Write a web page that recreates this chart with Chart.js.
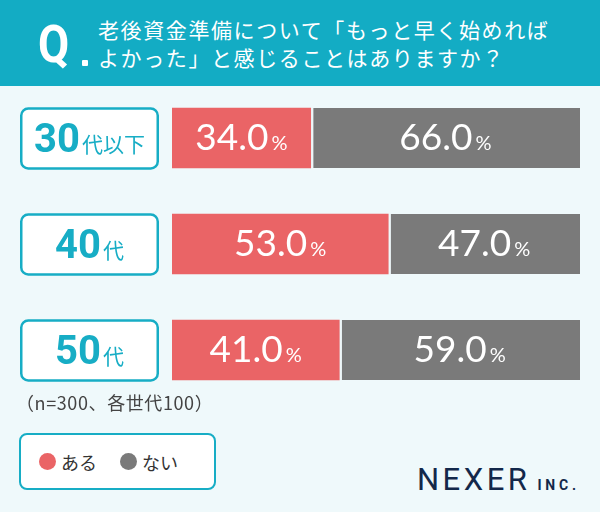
<!DOCTYPE html>
<html lang="ja">
<head>
<meta charset="utf-8">
<script src="https://cdn.jsdelivr.net/npm/chart.js@4.4.1/dist/chart.umd.min.js"></script>
<style>
  html, body { margin: 0; padding: 0; }
  body {
    width: 600px; height: 512px; position: relative; overflow: hidden;
    background: #eff9fb;
    font-family: 'Noto Sans CJK JP', 'Noto Sans', sans-serif;
  }
  .header { position: absolute; left: 0; top: 0; width: 600px; height: 86px; background: #13acc4; }
  .header .q {
    position: absolute; left: 38px; top: 19px;
    font: 700 52px/1 Roboto, sans-serif; color: #fff;
    transform: scaleX(0.87); transform-origin: left top;
  }
  .header .dot { position: absolute; left: 82px; top: 60px; width: 6px; height: 6px; background: #fff; border-radius: 1px; }
  .header .title {
    position: absolute; left: 98px; top: 15px;
    font-size: 21px; line-height: 28px; letter-spacing: 1.6px; color: #fff;
    white-space: nowrap;
  }
  .chart-wrap { position: absolute; left: 0; top: 80px; width: 600px; height: 330px; }
  .note { position: absolute; left: 16px; top: 392px; font-size: 18px; line-height: 20px; letter-spacing: 0.6px; color: #444; }
  .legend {
    position: absolute; left: 19px; top: 433px; width: 175px; height: 53px;
    background: #fff; border: 2px solid #17adc5; border-radius: 8px;
    display: flex; align-items: center; padding-left: 18px; box-sizing: content-box;
  }
  .legend-item { display: flex; align-items: center; font-size: 18px; color: #333; margin-right: 23px; }
  .legend-dot { width: 17px; height: 17px; border-radius: 50%; margin-right: 5px; }
  .logo {
    position: absolute; left: 417px; top: 464px; display: flex; align-items: baseline;
    color: #13284a; font-family: Roboto, sans-serif; line-height: 1;
  }
  .logo .main { font-size: 31px; letter-spacing: 3.5px; }
  .logo .inc { font-size: 14px; font-weight: 700; letter-spacing: 3.8px; margin-left: 7px; }
</style>
</head>
<body>
<div class="header">
  <span class="q">Q</span><span class="dot"></span>
  <div class="title">老後資金準備について「もっと早く始めれば<br>よかった」と感じることはありますか？</div>
</div>
<div class="chart-wrap"><canvas id="chart"></canvas></div>
<div class="note">（n=300、各世代100）</div>
<div class="legend" id="legend"></div>
<div class="logo"><span class="main">NEXER</span><span class="inc">INC.</span></div>

<script>
// ===== DATA =====
const ageGroups = ['30代以下', '40代', '50代'];
const yesValues = [34.0, 53.0, 41.0];
const noValues = [66.0, 47.0, 59.0];
const seriesNames = ['ある', 'ない'];
const seriesColors = ['#ea6466', '#7a7a7a'];

const teal = '#17adc5';
const gapColor = '#eef7f9';

// ===== LEGEND (HTML) =====
const legendEl = document.getElementById('legend');
seriesNames.forEach((name, i) => {
  const item = document.createElement('div');
  item.className = 'legend-item';
  item.innerHTML = '<span class="legend-dot" style="background:' + seriesColors[i] + '"></span>' + name;
  legendEl.appendChild(item);
});

// ===== PLUGINS =====
// percentage text centred in each segment, big number + small "%"
const valueLabels = {
  id: 'valueLabels',
  afterDatasetsDraw(chart) {
    const ctx = chart.ctx;
    ctx.save();
    ctx.fillStyle = '#fff';
    ctx.textAlign = 'left';
    ctx.textBaseline = 'alphabetic';
    chart.data.datasets.forEach((ds, di) => {
      chart.getDatasetMeta(di).data.forEach((bar, i) => {
        const num = ds.data[i].toFixed(1);
        ctx.font = '37px Lato, sans-serif';
        const w1 = ctx.measureText(num).width;
        ctx.font = '20px Lato, sans-serif';
        const w2 = ctx.measureText('%').width;
        const gap = 3;
        const cx = (bar.base + bar.x) / 2;
        const x = cx - (w1 + gap + w2) / 2;
        const y = bar.y + 12;
        ctx.font = '37px Lato, sans-serif';
        ctx.fillText(num, x, y);
        ctx.font = '20px Lato, sans-serif';
        ctx.fillText('%', x + w1 + gap, y);
      });
    });
    ctx.restore();
  }
};

// rounded boxes with the age group, placed on the y scale
const ageBoxes = {
  id: 'ageBoxes',
  afterDraw(chart) {
    const ctx = chart.ctx;
    const yScale = chart.scales.y;
    ageGroups.forEach((label, i) => {
      const y = yScale.getPixelForValue(i);
      const parts = label.match(/^(\d+)(.*)$/);
      const num = parts[1], suffix = parts[2];
      ctx.save();
      ctx.beginPath();
      ctx.roundRect(21.25, y - 29.5, 136.5, 60, 7);
      ctx.fillStyle = '#fff';
      ctx.fill();
      ctx.lineWidth = 2.5;
      ctx.strokeStyle = teal;
      ctx.stroke();

      ctx.fillStyle = teal;
      ctx.textBaseline = 'alphabetic';
      ctx.textAlign = 'left';
      ctx.font = 'bold 40px Roboto, sans-serif';
      const w1 = ctx.measureText(num).width;
      ctx.font = '21px "Noto Sans CJK JP", sans-serif';
      const w2 = ctx.measureText(suffix).width;
      const gap = 2;
      const x = 89.5 - (w1 + gap + w2) / 2;
      ctx.font = 'bold 40px Roboto, sans-serif';
      ctx.fillText(num, x, y + 14);
      ctx.font = '21px "Noto Sans CJK JP", sans-serif';
      ctx.fillText(suffix, x + w1 + gap, y + 14);
      ctx.restore();
    });
  }
};

// ===== CHART =====
new Chart(document.getElementById('chart'), {
  type: 'bar',
  data: {
    labels: ageGroups,
    datasets: [
      {
        label: seriesNames[0],
        data: yesValues,
        backgroundColor: seriesColors[0],
        borderWidth: 0,
        barThickness: 60
      },
      {
        label: seriesNames[1],
        data: noValues,
        backgroundColor: seriesColors[1],
        borderColor: gapColor,
        borderWidth: { top: 0, right: 0, bottom: 0, left: 3 },
        borderSkipped: false,
        barThickness: 60
      }
    ]
  },
  options: {
    indexAxis: 'y',
    responsive: true,
    maintainAspectRatio: false,
    animation: false,
    layout: { padding: { left: 172, right: 20, top: 5, bottom: 7 } },
    plugins: {
      legend: { display: false },
      tooltip: { enabled: false }
    },
    scales: {
      x: { stacked: true, min: 0, max: 100, display: false },
      y: { stacked: true, display: false }
    }
  },
  plugins: [valueLabels, ageBoxes]
});
</script>
</body>
</html>
